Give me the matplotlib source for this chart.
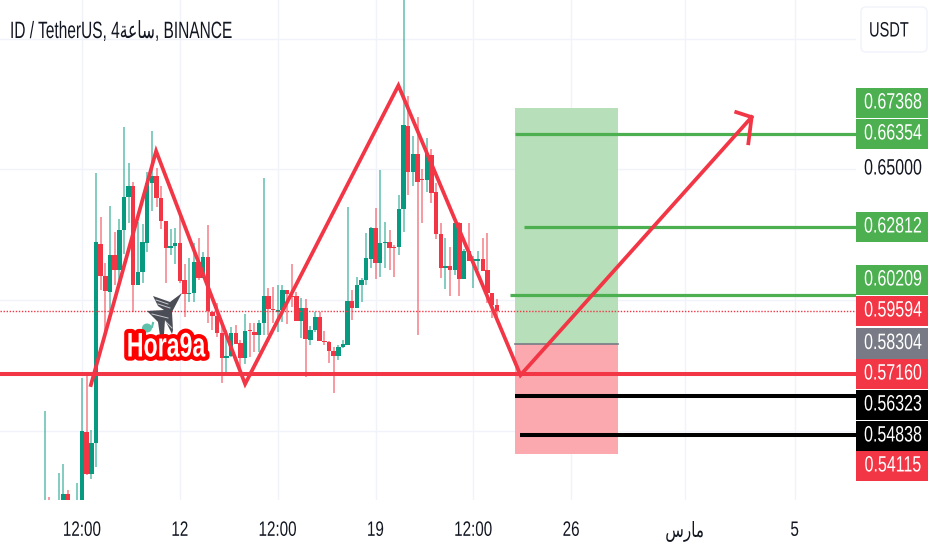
import matplotlib
matplotlib.use("Agg")
import matplotlib.pyplot as plt
from matplotlib.patches import FancyBboxPatch, Polygon, Ellipse, Rectangle
from matplotlib.patheffects import AbstractPathEffect
from matplotlib.transforms import Affine2D
import numpy as np

plt.rcParams["font.family"] = ["Liberation Sans", "DejaVu Sans"]

GREEN = "#089981"
RED = "#f23645"
LINE_GREEN = "#4caf50"
GRID = "#f0f3fa"
TEXT = "#131722"

# 4h candles, left to right
opens = [.5100, .5150, .5100, .5120, .5150, .5258, .5150, .5150, .5150, .5495,
         .5334, .5453, .6214, .6092, .6031, .6172, .6115, .6268, .6394, .6436,
         .6058, .6107, .6218, .6448, .6475, .6390, .6302, .6199, .6207, .6218,
         .6077, .6023, .6027, .6146, .6084, .6165, .5954, .5939, .5874, .5778,
         .5786, .5874, .5836, .5778, .5885, .5878, .5866, .5912, .6016, .5966,
         .5954, .5962, .6038, .6016, .6016, .5920, .5970, .5847, .5885, .5935,
         .5843, .5840, .5805, .5786, .5820, .5828, .5996, .5970, .6058, .6077,
         .6157, .6276, .6142, .6218, .6222, .6203, .6203, .6348, .6666, .6490,
         .6559, .6463, .6459, .6555, .6413, .6253, .6123, .6130, .6115, .6295,
         .6081, .6188, .6149, .6149, .6157, .6115, .6027, .5981]
highs = [.5575, .5246, .5200, .5338, .5373, .5273, .5220, .5300, .5702, .5709,
         .5503, .6487, .6318, .6142, .6360, .6260, .6310, .6662, .6524, .6452,
         .6299, .6291, .6490, .6647, .6505, .6436, .6302, .6272, .6276, .6333,
         .6138, .6161, .6218, .6237, .6184, .6287, .5954, .5989, .5912, .5885,
         .5897, .5904, .5847, .5947, .5912, .5912, .5924, .6467, .6046, .6050,
         .6058, .6058, .6038, .6138, .6031, .6008, .6004, .5901, .5954, .5954,
         .5881, .5843, .5820, .5828, .5847, .6356, .6038, .6088, .6084, .6257,
         .6280, .6352, .6498, .6299, .6268, .6211, .6402, .7200, .6781, .6628,
         .6700, .6501, .6620, .6578, .6448, .6295, .6237, .6203, .6295, .6299,
         .6195, .6295, .6168, .6188, .6237, .6257, .6027, .6004]
lows = [.5050, .5050, .5050, .5050, .5050, .5100, .5100, .5100, .5100, .5331,
        .5315, .5361, .6038, .5874, .5954, .6058, .6077, .6176, .6295, .5954,
        .6058, .6065, .6184, .6341, .6356, .6272, .6065, .6172, .6138, .6065,
        .5935, .5993, .5993, .6077, .6084, .5912, .5885, .5859, .5683, .5713,
        .5782, .5832, .5732, .5755, .5782, .5801, .5801, .5866, .5866, .5912,
        .5878, .5916, .5908, .5973, .5920, .5855, .5706, .5828, .5878, .5843,
        .5828, .5759, .5644, .5771, .5817, .5828, .5924, .5970, .5993, .6058,
        .6123, .6081, .6088, .6123, .6115, .6088, .6172, .6260, .6402, .6436,
        .5866, .6295, .6413, .6371, .6234, .6084, .6042, .6016, .6096, .6016,
        .6081, .6149, .6046, .6115, .6111, .5989, .5931, .5935]
closes = [.5150, .5100, .5150, .5200, .5258, .5150, .5200, .5220, .5499, .5334,
          .5453, .6222, .6092, .6035, .6172, .6115, .6268, .6394, .6436, .6058,
          .6107, .6222, .6448, .6475, .6390, .6302, .6199, .6207, .6218, .6073,
          .6023, .6027, .6146, .6084, .6165, .5958, .5939, .5874, .5778, .5786,
          .5874, .5832, .5778, .5881, .5881, .5866, .5912, .6016, .5966, .5962,
          .5962, .6038, .6023, .6012, .5920, .5970, .5851, .5885, .5935, .5843,
          .5840, .5805, .5786, .5820, .5832, .5996, .5970, .6058, .6077, .6161,
          .6276, .6142, .6218, .6222, .6199, .6199, .6348, .6670, .6490, .6559,
          .6452, .6459, .6563, .6410, .6253, .6123, .6130, .6115, .6295, .6081,
          .6188, .6149, .6157, .6157, .6111, .6027, .5981, .5958]

# pattern drawn on the chart (bar index, price)
zigzag_x = [9.9, 23.9, 43.0, 75.9, 102.1, 151.7]
zigzag_y = [.5675, .6570, .5679, .6821, .5713, .6700]
arrow_x = [148.4, 151.7, 151.0]
arrow_y = [.6719, .6700, .6600]

# position box
box_x = [100.9, 123.0]
target_price = 0.67368
entry_price = 0.58304
stop_price = 0.54115

# levels: price, first bar, colour
level_prices = [0.66354, 0.62812, 0.60209, 0.56323, 0.54838]
level_starts = [100.9, 102.8, 99.8, 100.9, 102.0]
level_colors = [LINE_GREEN, LINE_GREEN, LINE_GREEN, "black", "black"]
support_price = 0.57160
last_price = 0.59594

tick_pos = [8, 29, 50, 71, 92, 113, 137.4, 161]
# arabic is written in shaped forms and visual order, matplotlib has no bidi
tick_labels = ["12:00", "12", "12:00", "19", "12:00", "26", "\ufeb1\ufead\ufe8e\ufee3", "5"]
grid_prices = [0.70, 0.65, 0.60, 0.55]

price_labels = ["0.67368", "0.66354", "0.65000", "0.62812", "0.60209", "0.59594",
                "0.58304", "0.57160", "0.56323", "0.54838", "0.54115"]
label_colors = [LINE_GREEN, LINE_GREEN, None, LINE_GREEN, LINE_GREEN, RED,
                "#787b86", RED, "black", "black", RED]
label_centers = [103, 134, 169, 227, 280, 311, 343.5, 374, 405, 436, 466]


class Squeeze(AbstractPathEffect):
    # the screenshot is squashed sideways, no narrow font is installed
    def __init__(self, x0, sx, stroke=None, stroke_lw=0):
        super().__init__()
        self.x0 = x0
        self.sx = sx
        self.stroke = stroke
        self.stroke_lw = stroke_lw

    def draw_path(self, renderer, gc, tpath, affine, rgbFace=None):
        squeezed = affine + Affine2D().translate(-self.x0, 0).scale(self.sx, 1).translate(self.x0, 0)
        if self.stroke is not None:
            gc0 = renderer.new_gc()
            gc0.copy_properties(gc)
            gc0.set_foreground(self.stroke)
            gc0.set_linewidth(self.stroke_lw)
            renderer.draw_path(gc0, tpath, squeezed, rgbFace)
            gc0.restore()
        renderer.draw_path(gc, tpath, squeezed, rgbFace)


fig = plt.figure(figsize=(9.32, 5.5), dpi=100)
ax = fig.add_axes([0, 50 / 550, 856 / 932, 500 / 550])
ax.set_xlim(-9.6, 174.1)
ax.set_ylim(0.52351, 0.71481)
for s in ax.spines.values():
    s.set_visible(False)
ax.set_yticks([])
ax.set_xticks(tick_pos)
ax.set_xticklabels(tick_labels, fontsize=15, color=TEXT)
ax.tick_params(axis="x", length=0, pad=15)
ax.set_axisbelow(True)
for t, lab in zip(tick_pos, ax.get_xticklabels()):
    lab.set_path_effects([Squeeze(44.7 + 4.653 * t, 0.73)])

for p in grid_prices:
    ax.axhline(p, color=GRID, lw=1, zorder=0)
for t in tick_pos:
    ax.axvline(t, color=GRID, lw=1, zorder=0)

# position box goes under the candles
ax.fill_between(box_x, entry_price, target_price, color="#b7dfb9", lw=0, zorder=1)
ax.fill_between(box_x, stop_price, entry_price, color="#fba8ae", lw=0, zorder=1)
ax.plot(box_x, [entry_price, entry_price], color="#787b86", lw=1.2, zorder=1.5)

idx = np.arange(len(opens))
opens = np.array(opens)
closes = np.array(closes)
up = closes >= opens
colors = np.where(up, GREEN, RED)
ax.vlines(idx, lows, highs, colors=colors, lw=1.4, alpha=0.5, zorder=2)
ax.bar(idx, np.abs(closes - opens), bottom=np.minimum(opens, closes), width=0.95,
       color=colors, lw=0, zorder=3)

ax.axhline(last_price, color=RED, lw=1, ls=(0, (1, 1.2)), zorder=4)
ax.axhline(support_price, color=RED, lw=2.9, zorder=5)
for p, x0, c in zip(level_prices, level_starts, level_colors):
    ax.plot([x0, 174.1], [p, p], color=c, lw=2.3 if c != "black" else 2.9, zorder=5,
            solid_capstyle="butt")

ax.plot(zigzag_x, zigzag_y, color=RED, lw=2.7, zorder=6, solid_joinstyle="miter")
ax.plot(arrow_x, arrow_y, color=RED, lw=2.7, zorder=6, solid_joinstyle="miter")

# everything outside the chart pane, in pixel coordinates
ov = fig.add_axes([0, 0, 1, 1], facecolor="none")
ov.set_xlim(0, 932)
ov.set_ylim(550, 0)
ov.axis("off")

ov.text(10, 32, "ID / TetherUS, 4\ufe94\ufecb\ufe8e\ufeb3, BINANCE", fontsize=17,
        color=TEXT, va="center", ha="left", path_effects=[Squeeze(10, 0.655)])

ov.add_patch(FancyBboxPatch((861, 7), 66, 45, boxstyle="round,pad=0,rounding_size=5",
                            fc="white", ec=GRID, lw=1))
ov.text(889, 31, "USDT", fontsize=15, color=TEXT, ha="center", va="center",
        path_effects=[Squeeze(889, 0.7)])

for txt, c, y in zip(price_labels, label_colors, label_centers):
    if c is not None:
        ov.add_patch(Rectangle((856, y - 15.3), 71.5, 30.6, fc=c, ec="none"))
    ov.text(893, y, txt, fontsize=16, ha="center", va="center",
            color="white" if c is not None else TEXT, path_effects=[Squeeze(893, 0.72)])

# jet and whale next to the watermark
ov.add_patch(Polygon([[182, 293], [170, 302], [153, 296], [158, 306], [164, 310], [147, 311],
                      [158, 322], [160, 336], [164, 334], [165, 320], [172, 334], [173, 330],
                      [172, 312]], fc="#4a4d55", ec="none", zorder=7))
for sx0, sy0, sx1, sy1 in [(156, 300, 168, 304), (158, 304, 170, 308), (152, 314, 168, 318),
                           (166, 322, 172, 328)]:
    ov.plot([sx0, sx1], [sy0, sy1], color="#c8cad0", lw=0.7, zorder=7.5)
ov.add_patch(Ellipse((147, 328), 10, 9, fc="#5fc1ac", ec="none", zorder=7))
ov.plot([152, 153], [327, 323], color="#5fc1ac", lw=1.5, zorder=7)
ov.text(166, 348, "Hora9a", fontsize=24.5, fontweight="bold", color="white", ha="center",
        va="center", zorder=8, path_effects=[Squeeze(166, 0.68, "#ff0000", 6)])

fig.savefig("out.png", dpi=100, facecolor="white")
